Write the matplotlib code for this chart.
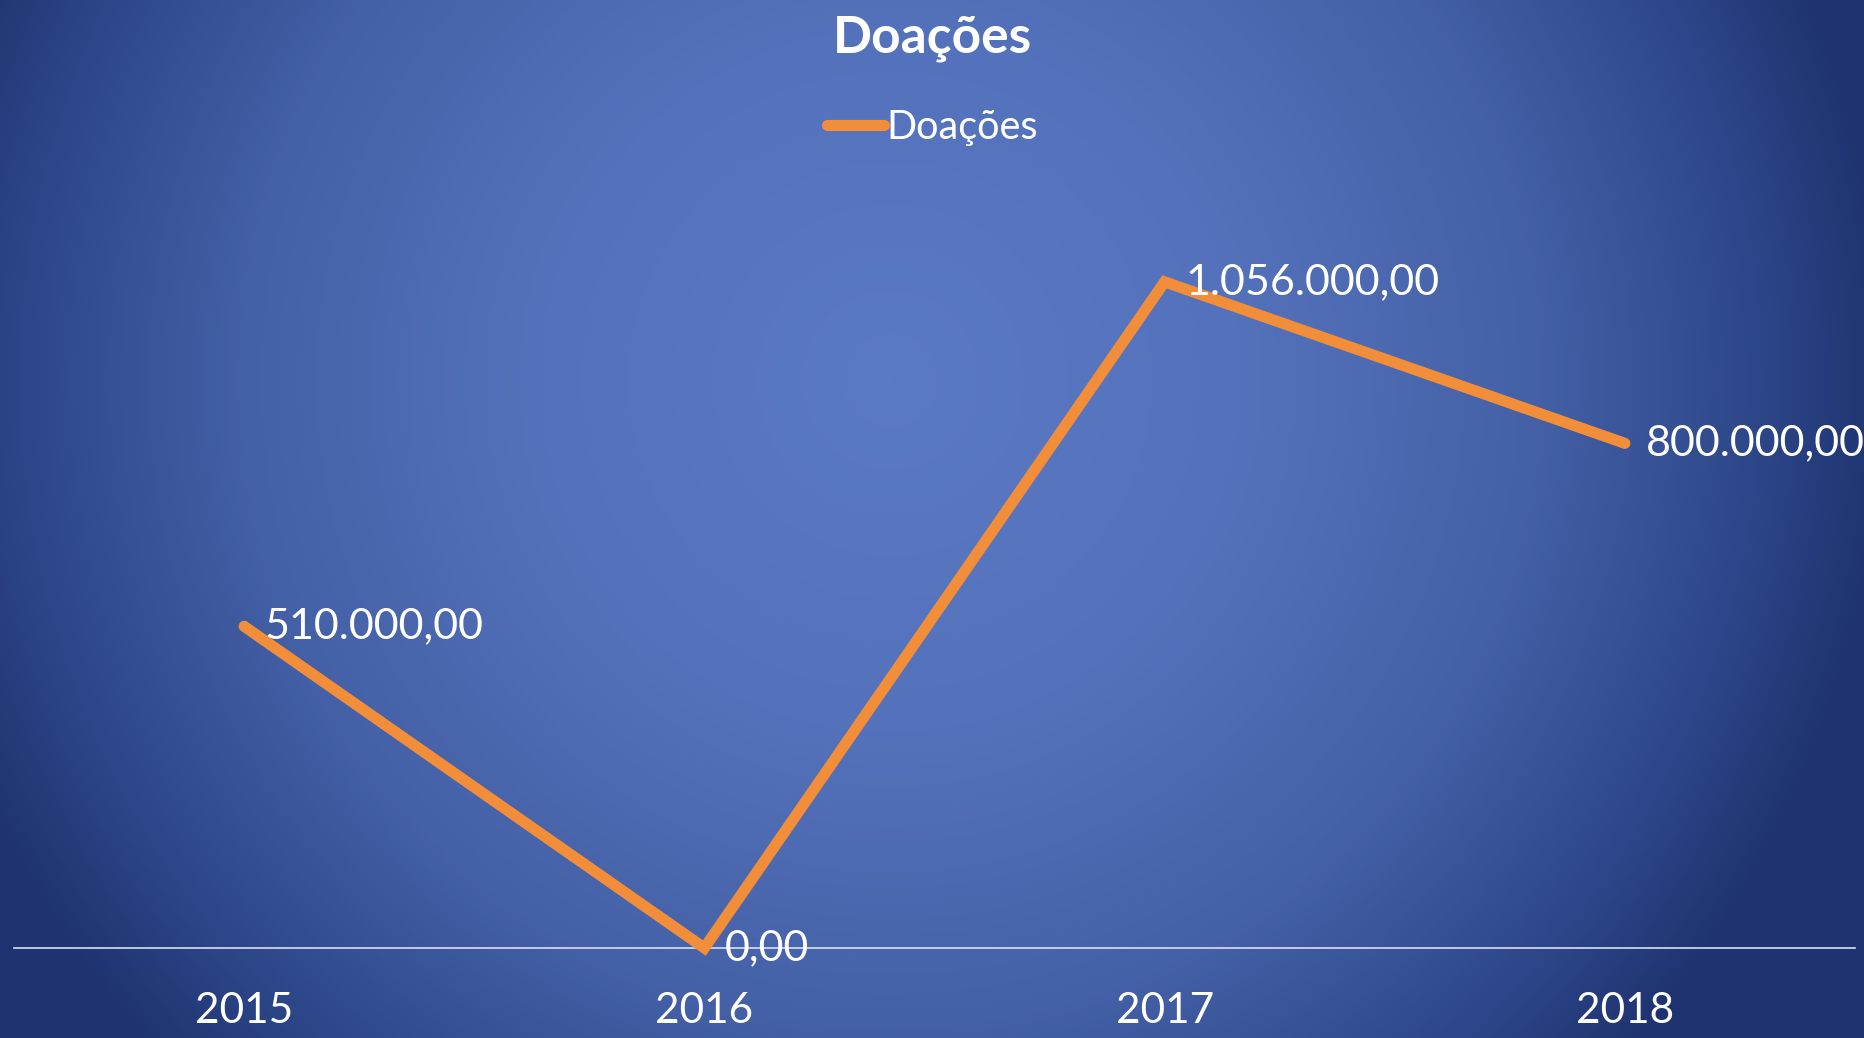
import numpy as np
from matplotlib import pyplot as plt
from matplotlib.colors import LinearSegmentedColormap

# data
anos = ['2015', '2016', '2017', '2018']
doacoes = [510000, 0, 1056000, 800000]
rotulos = ['510.000,00', '0,00', '1.056.000,00', '800.000,00']

plt.rcParams['font.family'] = ['Lato', 'DejaVu Sans']

W, H = 1864, 1038
fig = plt.figure(figsize=(W / 100, H / 100), dpi=100)

# radial background gradient
bg = fig.add_axes([0, 0, 1, 1], zorder=-10)
yy, xx = np.mgrid[0:H, 0:W]
r = np.hypot((xx - 890) / 1000.0, (yy - 380) / 1000.0)
cmap = LinearSegmentedColormap.from_list('bg', [
    (0.0, '#5b7ac4'), (0.35, '#5472bb'), (0.65, '#4460a6'),
    (0.88, '#2b4587'), (1.0, '#1f3370')])
bg.imshow(np.clip(r, 0, 1), cmap=cmap, vmin=0, vmax=1, aspect='auto',
          interpolation='bilinear')
bg.axis('off')

ax = fig.add_axes([14 / W, 90 / H, (1855 - 14) / W, (948 - 191) / H])
ax.patch.set_alpha(0)
x = np.arange(len(anos))
ax.plot(x, doacoes, color='#f28e3a', lw=8, solid_capstyle='round',
        solid_joinstyle='miter', label='Doações', zorder=3)
for xi, v, t in zip(x, doacoes, rotulos):
    ax.annotate(t, (xi, v), xytext=(15, 0), textcoords='offset points',
                ha='left', va='center', color='white', fontsize=31, zorder=5)

ax.set_xlim(-0.5, 3.5)
ax.set_ylim(0, 1200000)
ax.set_xticks(x)
ax.set_xticklabels(anos)
ax.set_yticks([])
ax.tick_params(axis='x', length=0, colors='white', labelsize=30.5, pad=32)
for s in ['top', 'right', 'left']:
    ax.spines[s].set_visible(False)
ax.spines['bottom'].set_color('#d9dff0')
ax.spines['bottom'].set_linewidth(1.2)
for ln in ax.lines:
    ln.set_clip_on(False)

fig.text(0.5, 1 - 38 / H, 'Doações', ha='center', va='center',
         color='white', fontsize=37, fontweight='bold')
leg = fig.legend(loc='center', bbox_to_anchor=(0.5, 1 - 127 / H), frameon=False,
                 fontsize=28.5, handlelength=1.45, handletextpad=0.05)
for t in leg.get_texts():
    t.set_color('white')

fig.savefig('out.png', dpi=100)
